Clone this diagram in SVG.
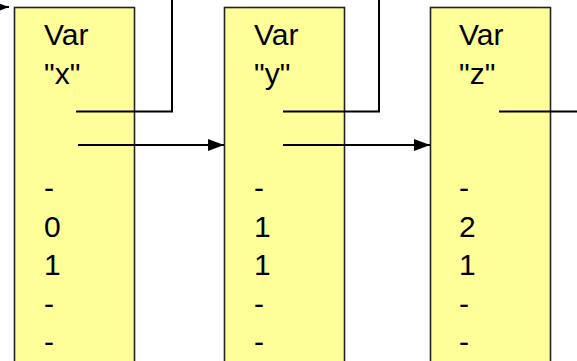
<svg xmlns="http://www.w3.org/2000/svg" width="577" height="361" viewBox="0 0 577 361">
  <style>
    .box { fill: #ffff99; stroke: #222; stroke-width: 1.6; }
    .lbl { font-family: "Liberation Sans", Arial, sans-serif; font-size: 30px; fill: #000; }
    .wire { fill: none; stroke: #000; stroke-width: 2; }
  </style>
  <defs>
    <marker id="head" viewBox="0 0 16 12" refX="16" refY="6" markerWidth="16" markerHeight="12" markerUnits="userSpaceOnUse" orient="auto">
      <path d="M0,0 L16,6 L0,12 Z" fill="#000"/>
    </marker>
  </defs>

  <g id="var-x">
    <rect class="box" x="14.5" y="7.5" width="120" height="370"/>
    <text class="lbl">
      <tspan x="44" y="45">Var</tspan>
      <tspan x="44" y="83.5">"x"</tspan>
      <tspan x="44" y="198">-</tspan>
      <tspan x="44" y="236.5">0</tspan>
      <tspan x="44" y="275">1</tspan>
      <tspan x="44" y="313.5">-</tspan>
      <tspan x="44" y="352">-</tspan>
    </text>
  </g>

  <g id="var-y">
    <rect class="box" x="224.5" y="7.5" width="120" height="370"/>
    <text class="lbl">
      <tspan x="254" y="45">Var</tspan>
      <tspan x="254" y="83.5">"y"</tspan>
      <tspan x="254" y="198">-</tspan>
      <tspan x="254" y="236.5">1</tspan>
      <tspan x="254" y="275">1</tspan>
      <tspan x="254" y="313.5">-</tspan>
      <tspan x="254" y="352">-</tspan>
    </text>
  </g>

  <g id="var-z">
    <rect class="box" x="430.5" y="7.5" width="120" height="370"/>
    <text class="lbl">
      <tspan x="459" y="45">Var</tspan>
      <tspan x="459" y="83.5">"z"</tspan>
      <tspan x="459" y="198">-</tspan>
      <tspan x="459" y="236.5">2</tspan>
      <tspan x="459" y="275">1</tspan>
      <tspan x="459" y="313.5">-</tspan>
      <tspan x="459" y="352">-</tspan>
    </text>
  </g>

  <g id="connectors">
    <!-- incoming link at the top-left corner -->
    <path class="wire" d="M-10,7 L9,7" marker-end="url(#head)"/>
    <!-- x: back link up and out -->
    <path class="wire" d="M76,111.5 L172,111.5 L172,-2"/>
    <!-- x: forward link to y -->
    <path class="wire" d="M78,145 L224,145" marker-end="url(#head)"/>
    <!-- y: back link up and out -->
    <path class="wire" d="M283,111.5 L379,111.5 L379,-2"/>
    <!-- y: forward link to z -->
    <path class="wire" d="M283,145 L430,145" marker-end="url(#head)"/>
    <!-- z: link out to the right -->
    <path class="wire" d="M499,111.5 L580,111.5"/>
  </g>
</svg>
